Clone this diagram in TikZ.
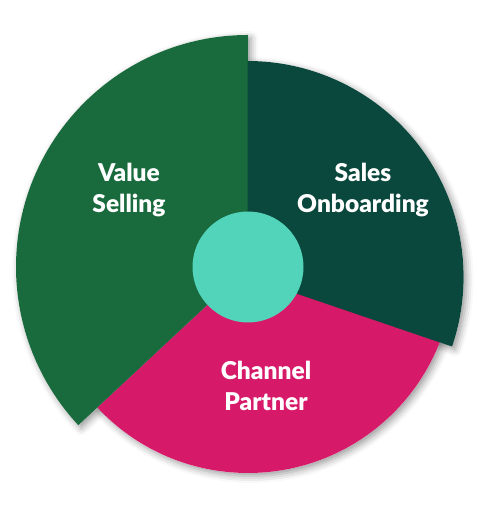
\documentclass[tikz,border=0pt]{standalone}
\usepackage{fontspec}
\setmainfont{Lato}[BoldFont=* Black]
\usetikzlibrary{shadows.blur}

\definecolor{valuegreen}{RGB}{25,106,60}
\definecolor{onboardgreen}{RGB}{10,71,60}
\definecolor{partnerpink}{RGB}{215,25,105}
\definecolor{hubteal}{RGB}{82,212,187}

\begin{document}
\begin{tikzpicture}[x=1pt, y=1pt,
  slice/.style={draw=none},
  shade/.style={fill=white, blur shadow={shadow xshift=3pt, shadow yshift=-3pt, shadow blur radius=7pt, shadow opacity=40}},
  valuepath/.style={insert path={(hub) -- ++(90:232) arc[start angle=90, end angle=223, radius=232] -- cycle}},
  partnerpath/.style={insert path={(hub) -- ++(223:206) arc[start angle=223, end angle=345, radius=206] -- cycle}},
  onboardpath/.style={insert path={(tip) -- ++(-18.8:216) arc[start angle=-18.8, end angle=90, radius=216] -- cycle}},
  label/.style={text=white, font=\fontsize{24.5}{31}\selectfont\bfseries, align=center}
]
\useasboundingbox (0,0) rectangle (500,529);

\coordinate (hub) at (248,262);
\coordinate (tip) at (247.6,252);

% soft shadows first
\path[shade, partnerpath];
\path[shade, valuepath];
\path[shade, onboardpath];

% slices
\fill[slice, partnerpink, partnerpath];
\fill[slice, valuegreen, valuepath];
\fill[slice, onboardgreen, onboardpath];

\node[circle, fill=hubteal, minimum size=111pt, inner sep=0pt] (center) at (hub) {};

\node[label] (value) at (129,339) {Value\\Selling};
\node[label] (onboard) at (363,339) {Sales\\Onboarding};
\node[label] (partner) at (266,143) {Channel\\Partner};
\end{tikzpicture}
\end{document}
